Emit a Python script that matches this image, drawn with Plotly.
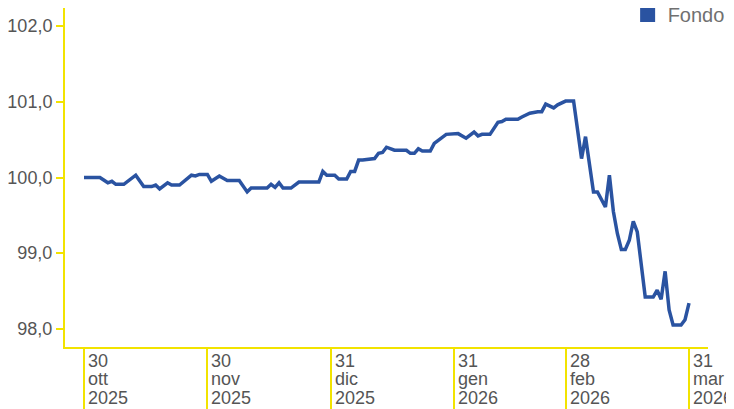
import plotly.graph_objects as go

# ---- data ----
dates = [
    "2025-10-30", "2025-11-03", "2025-11-05", "2025-11-06", "2025-11-07", "2025-11-09",
    "2025-11-12", "2025-11-14", "2025-11-16", "2025-11-17", "2025-11-18", "2025-11-20",
    "2025-11-21", "2025-11-23", "2025-11-26", "2025-11-27", "2025-11-28", "2025-11-30",
    "2025-12-01", "2025-12-03", "2025-12-05", "2025-12-08", "2025-12-10", "2025-12-11",
    "2025-12-15", "2025-12-16", "2025-12-17", "2025-12-18", "2025-12-19", "2025-12-21",
    "2025-12-23", "2025-12-28", "2025-12-29", "2025-12-30", "2026-01-01", "2026-01-02",
    "2026-01-04", "2026-01-05", "2026-01-06", "2026-01-07", "2026-01-08", "2026-01-10",
    "2026-01-11", "2026-01-12", "2026-01-13", "2026-01-14", "2026-01-16", "2026-01-19",
    "2026-01-20", "2026-01-21", "2026-01-22", "2026-01-23", "2026-01-25", "2026-01-26",
    "2026-01-29", "2026-02-01", "2026-02-03", "2026-02-05", "2026-02-06", "2026-02-07",
    "2026-02-09", "2026-02-11", "2026-02-12", "2026-02-13", "2026-02-16", "2026-02-17",
    "2026-02-19", "2026-02-21", "2026-02-22", "2026-02-23", "2026-02-25", "2026-02-26",
    "2026-02-28", "2026-03-02", "2026-03-04", "2026-03-05", "2026-03-07", "2026-03-08",
    "2026-03-10", "2026-03-11", "2026-03-12", "2026-03-13", "2026-03-14", "2026-03-15",
    "2026-03-16", "2026-03-17", "2026-03-18", "2026-03-20", "2026-03-22", "2026-03-23",
    "2026-03-24", "2026-03-25", "2026-03-26", "2026-03-27", "2026-03-29", "2026-03-30",
    "2026-03-31",
]
fondo = [
    100.00, 100.00, 99.93, 99.95, 99.91, 99.91,
    100.03, 99.88, 99.88, 99.90, 99.85, 99.93,
    99.90, 99.90, 100.03, 100.02, 100.04, 100.04,
    99.95, 100.02, 99.96, 99.96, 99.81, 99.86,
    99.86, 99.91, 99.87, 99.93, 99.86, 99.86,
    99.94, 99.94, 100.08, 100.03, 100.03, 99.98,
    99.98, 100.08, 100.08, 100.23, 100.23, 100.25,
    100.25, 100.32, 100.33, 100.40, 100.36, 100.36,
    100.32, 100.32, 100.38, 100.35, 100.35, 100.45,
    100.57, 100.58, 100.52, 100.60, 100.55, 100.57,
    100.57, 100.73, 100.74, 100.77, 100.77, 100.80,
    100.85, 100.87, 100.87, 100.97, 100.92, 100.96,
    101.01, 101.01, 100.25, 100.54, 99.81, 99.81,
    99.61, 100.03, 99.55, 99.26, 99.05, 99.05,
    99.17, 99.42, 99.28, 98.42, 98.42, 98.51,
    98.39, 98.76, 98.25, 98.05, 98.05, 98.12,
    98.34,
]
series_name = "Fondo"

tick_dates = ["2025-10-30", "2025-11-30", "2025-12-31", "2026-01-31", "2026-02-28", "2026-03-31"]
tick_day = ["30", "30", "31", "31", "28", "31"]
tick_month = ["ott", "nov", "dic", "gen", "feb", "mar"]
tick_year = ["2025", "2025", "2025", "2026", "2026", "2026"]
y_ticks = [98, 99, 100, 101, 102]

# ---- style ----
LINE_BLUE = "#2a53a1"
YELLOW = "#f2e300"
TEXT = "#555555"
FONT = "Liberation Sans, Arial, Helvetica, sans-serif"

fig = go.Figure()
fig.add_trace(go.Scatter(
    x=dates, y=fondo, mode="lines", name=series_name, showlegend=False,
    line=dict(color=LINE_BLUE, width=3.5), hoverinfo="skip",
))
fig.add_trace(go.Scatter(
    x=[None], y=[None], mode="markers", name=series_name, showlegend=True,
    marker=dict(symbol="square", size=15, color=LINE_BLUE),
))

annotations = []
for d, a, b, c in zip(tick_dates, tick_day, tick_month, tick_year):
    for i, t in enumerate([a, b, c]):
        annotations.append(dict(
            x=d, xref="x", y=0, yref="paper", text=t, showarrow=False,
            xanchor="left", yanchor="top", xshift=3, yshift=-3 - 18.3 * i,
            font=dict(family=FONT, size=18, color=TEXT), borderpad=0,
        ))

# the page body has an 8px margin, so the figure is sized/offset to compensate;
# it runs past the right edge of the window, as the reference's last label does
fig.update_layout(
    width=760, height=401,
    margin=dict(l=57, r=60, t=0, b=62, autoexpand=False),
    paper_bgcolor="white", plot_bgcolor="white",
    separators=",.",
    font=dict(family=FONT, color=TEXT),
    showlegend=True,
    legend=dict(
        x=0.875, y=1.038, xanchor="left", yanchor="top",
        font=dict(family=FONT, size=20, color="#707070"),
        bgcolor="rgba(0,0,0,0)", borderwidth=0,
    ),
    xaxis=dict(
        type="date",
        range=["2025-10-25 05:30", "2026-04-04 18:30"],
        showgrid=False, zeroline=False,
        showline=True, linecolor=YELLOW, linewidth=2,
        ticks="outside", ticklen=64, tickwidth=2, tickcolor=YELLOW,
        tickvals=tick_dates, showticklabels=False,
    ),
    yaxis=dict(
        range=[97.76, 102.24],
        showgrid=False, zeroline=False,
        showline=True, linecolor=YELLOW, linewidth=2,
        ticks="outside", ticklen=7, tickwidth=2, tickcolor=YELLOW,
        tickvals=y_ticks, tickformat=".1f",
        tickfont=dict(family=FONT, size=18, color=TEXT),
    ),
    annotations=annotations,
)

fig.write_html("out.html")
